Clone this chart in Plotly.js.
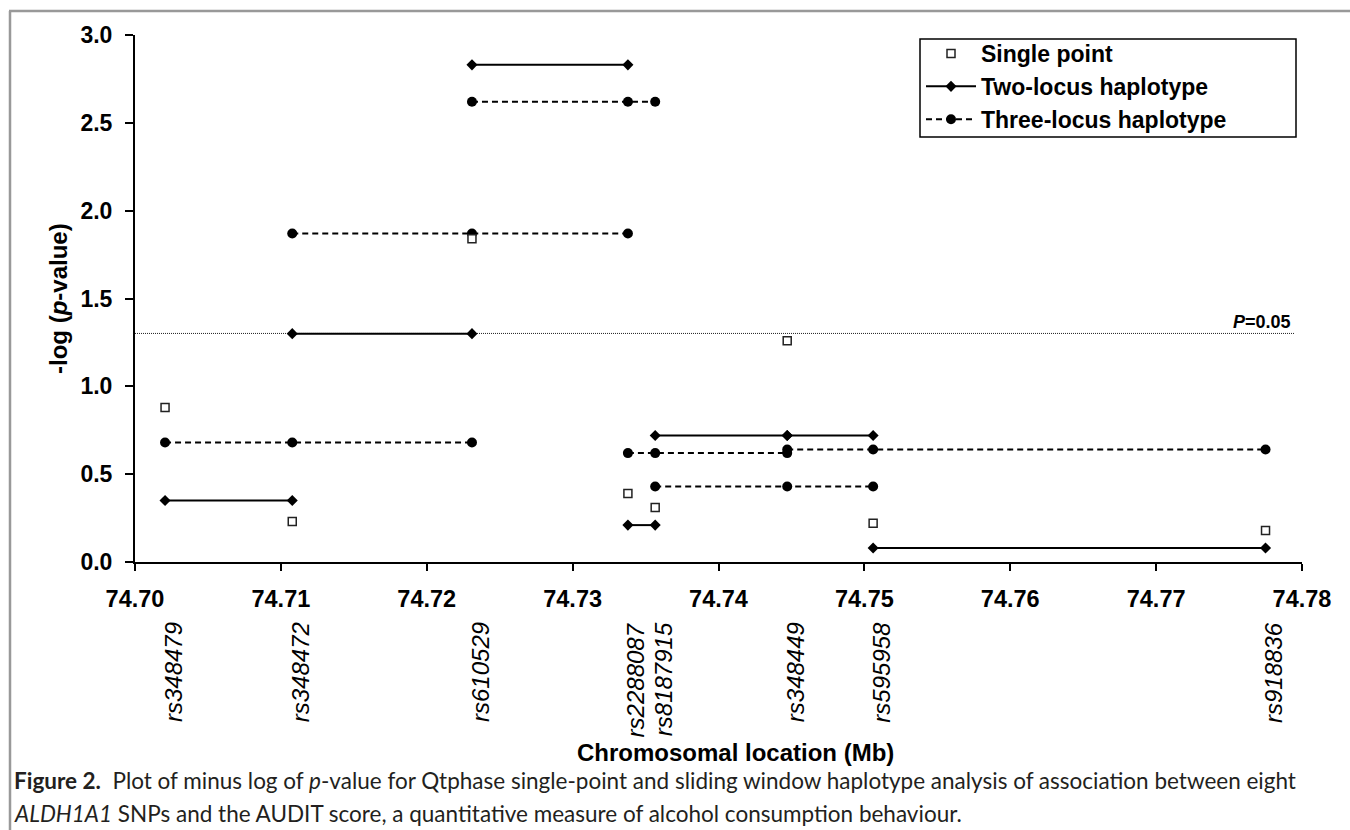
<!DOCTYPE html>
<html>
<head>
<meta charset="utf-8">
<script src="https://cdn.plot.ly/plotly-3.0.1.min.js"></script>
<style>
  html, body { margin: 0; padding: 0; background: #ffffff; }
  #chart { width: 1350px; height: 830px; }
</style>
</head>
<body>
<div id="chart"></div>
<script>
// ---- Data ----
const snpNames = ["rs348479", "rs348472", "rs610529", "rs2288087", "rs8187915", "rs348449", "rs595958", "rs918836"];
const snpPosMb = [74.70206, 74.71078, 74.72310, 74.73379, 74.73566, 74.74471, 74.75060, 74.77750];
// -log(p) single-point analysis, one per SNP
const singlePoint = [0.88, 0.23, 1.84, 0.39, 0.31, 1.26, 0.22, 0.18];
// -log(p) two-locus sliding window, one per adjacent SNP pair
const twoLocus = [0.35, 1.30, 2.83, 0.21, 0.72, 0.72, 0.08];
// -log(p) three-locus sliding window, one per window of three SNPs
const threeLocus = [0.68, 1.87, 2.62, 0.62, 0.43, 0.64];
const pThreshold = 0.05;
const xRange = [74.70, 74.78];
const yRange = [0, 3.0];

// ---- Layout constants ----
const W = 1350, H = 830;
const M = { l: 135, r: 48, t: 35, b: 268 };
const plotW = W - M.l - M.r, plotH = H - M.t - M.b;
const px2paperX = px => (px - M.l) / plotW;
const px2paperY = py => (H - M.b - py) / plotH;

const AX_FONT = "Liberation Sans, Arial, Helvetica, sans-serif";
const CAP_FONT = "Lato, 'Open Sans', sans-serif";

const traces = [];

// Three-locus haplotype windows (dashed, circles)
for (let i = 0; i < threeLocus.length; i++) {
  traces.push({
    type: "scatter", mode: "lines+markers",
    x: snpPosMb.slice(i, i + 3),
    y: [threeLocus[i], threeLocus[i], threeLocus[i]],
    name: "Three-locus haplotype", legendgroup: "three", legendrank: 3,
    showlegend: i === 0,
    line: { color: "#000", width: 2, dash: "6px,4px" },
    marker: { symbol: "circle", size: 10, color: "#000" },
    hoverinfo: "skip"
  });
}
// Two-locus haplotype windows (solid, diamonds)
for (let i = 0; i < twoLocus.length; i++) {
  traces.push({
    type: "scatter", mode: "lines+markers",
    x: snpPosMb.slice(i, i + 2),
    y: [twoLocus[i], twoLocus[i]],
    name: "Two-locus haplotype", legendgroup: "two", legendrank: 2,
    showlegend: i === 0,
    line: { color: "#000", width: 2 },
    marker: { symbol: "diamond", size: 8.5, color: "#000" },
    hoverinfo: "skip"
  });
}
// Single point (open squares)
traces.push({
  type: "scatter", mode: "markers",
  x: snpPosMb, y: singlePoint,
  name: "Single point", legendgroup: "single", legendrank: 1,
  marker: { symbol: "square", size: 8, color: "#fff", line: { color: "#222", width: 1.5 } },
  hoverinfo: "skip"
});

const pLine = -Math.log10(pThreshold);

const annotations = [];
// SNP labels under the axis
snpNames.forEach((name, i) => {
  annotations.push({
    x: snpPosMb[i], xref: "x", y: px2paperY(620), yref: "paper",
    xanchor: "center", yanchor: "top", xshift: 8,
    text: name, textangle: -90, showarrow: false,
    font: { family: AX_FONT, size: 24, style: "italic", color: "#000" }
  });
});
// P = 0.05 label
annotations.push({
  x: xRange[1], xref: "x", y: pLine, yref: "y",
  xanchor: "right", yanchor: "bottom", xshift: -9, yshift: -1,
  text: "<i>P</i>=0.05", showarrow: false,
  font: { family: AX_FONT, size: 18, weight: "bold", color: "#000" }
});
// y-axis title
annotations.push({
  x: px2paperX(58.5), xref: "paper", y: 0.5, yref: "paper",
  xanchor: "center", yanchor: "middle", textangle: -90, showarrow: false,
  text: "-log (<i>p</i>-value)",
  font: { family: AX_FONT, size: 24, weight: "bold", color: "#000" }
});
// x-axis title (placed as in the reference, slightly right of plot centre)
annotations.push({
  x: px2paperX(735), xref: "paper", y: px2paperY(752), yref: "paper",
  xanchor: "center", yanchor: "middle", showarrow: false,
  text: "Chromosomal location (Mb)",
  font: { family: AX_FONT, size: 24, weight: "bold", color: "#000" }
});
// Caption
annotations.push({
  x: px2paperX(12), xref: "paper", y: px2paperY(780), yref: "paper",
  xanchor: "left", yanchor: "middle", showarrow: false, align: "left",
  text: "<b>Figure 2.</b>  Plot of minus log of <i>p</i>-value for Qtphase single-point and sliding window haplotype analysis of association between eight",
  font: { family: CAP_FONT, size: 22.5, color: "#231f20" }
});
annotations.push({
  x: px2paperX(12), xref: "paper", y: px2paperY(813), yref: "paper",
  xanchor: "left", yanchor: "middle", showarrow: false, align: "left",
  text: "<i>ALDH1A1</i> SNPs and the AUDIT score, a quantitative measure of alcohol consumption behaviour.",
  font: { family: CAP_FONT, size: 22.5, color: "#231f20" }
});

const shapes = [
  // P = 0.05 reference line
  { type: "line", xref: "x", yref: "y", x0: xRange[0], x1: xRange[1] - 0.0005, y0: pLine, y1: pLine,
    line: { color: "#222", width: 1, dash: "1px,1px" }, layer: "below" },
  // legend frame
  { type: "rect", xref: "paper", yref: "paper",
    x0: px2paperX(920), x1: px2paperX(1296), y0: px2paperY(39), y1: px2paperY(137),
    line: { color: "#000", width: 1.5 }, fillcolor: "#fff", layer: "above" },
  // outer figure frame (left and top edges)
  { type: "line", xref: "paper", yref: "paper", x0: px2paperX(10), x1: px2paperX(10),
    y0: px2paperY(11), y1: px2paperY(840), line: { color: "#999", width: 2.5 } },
  { type: "line", xref: "paper", yref: "paper", x0: px2paperX(9), x1: px2paperX(1360),
    y0: px2paperY(11), y1: px2paperY(11), line: { color: "#999", width: 2.5 } }
];

const layout = {
  width: W, height: H,
  margin: M,
  paper_bgcolor: "#fff", plot_bgcolor: "#fff",
  font: { family: AX_FONT, color: "#000" },
  showlegend: true,
  legend: {
    x: px2paperX(921), y: px2paperY(32), xanchor: "left", yanchor: "top",
    borderwidth: 0, bgcolor: "rgba(0,0,0,0)",
    font: { family: AX_FONT, size: 23, weight: "bold", color: "#000" },
    itemwidth: 50, tracegroupgap: 0, traceorder: "normal"
  },
  xaxis: {
    range: xRange, tick0: 74.70, dtick: 0.01, tickformat: ".2f",
    showline: true, linecolor: "#000", linewidth: 2,
    ticks: "outside", ticklen: 7, tickwidth: 2, tickcolor: "#000",
    showgrid: false, zeroline: false, ticklabelstandoff: 8,
    tickfont: { family: AX_FONT, size: 23.5, weight: "bold", color: "#000" }
  },
  yaxis: {
    range: yRange, tick0: 0, dtick: 0.5, tickformat: ".1f",
    showline: true, linecolor: "#000", linewidth: 2,
    ticks: "outside", ticklen: 8, tickwidth: 2, tickcolor: "#000",
    showgrid: false, zeroline: false, ticklabelstandoff: 8,
    tickfont: { family: AX_FONT, size: 23, weight: "bold", color: "#000" }
  },
  annotations: annotations,
  shapes: shapes
};

Plotly.newPlot("chart", traces, layout, { staticPlot: true, displayModeBar: false });
</script>
</body>
</html>
